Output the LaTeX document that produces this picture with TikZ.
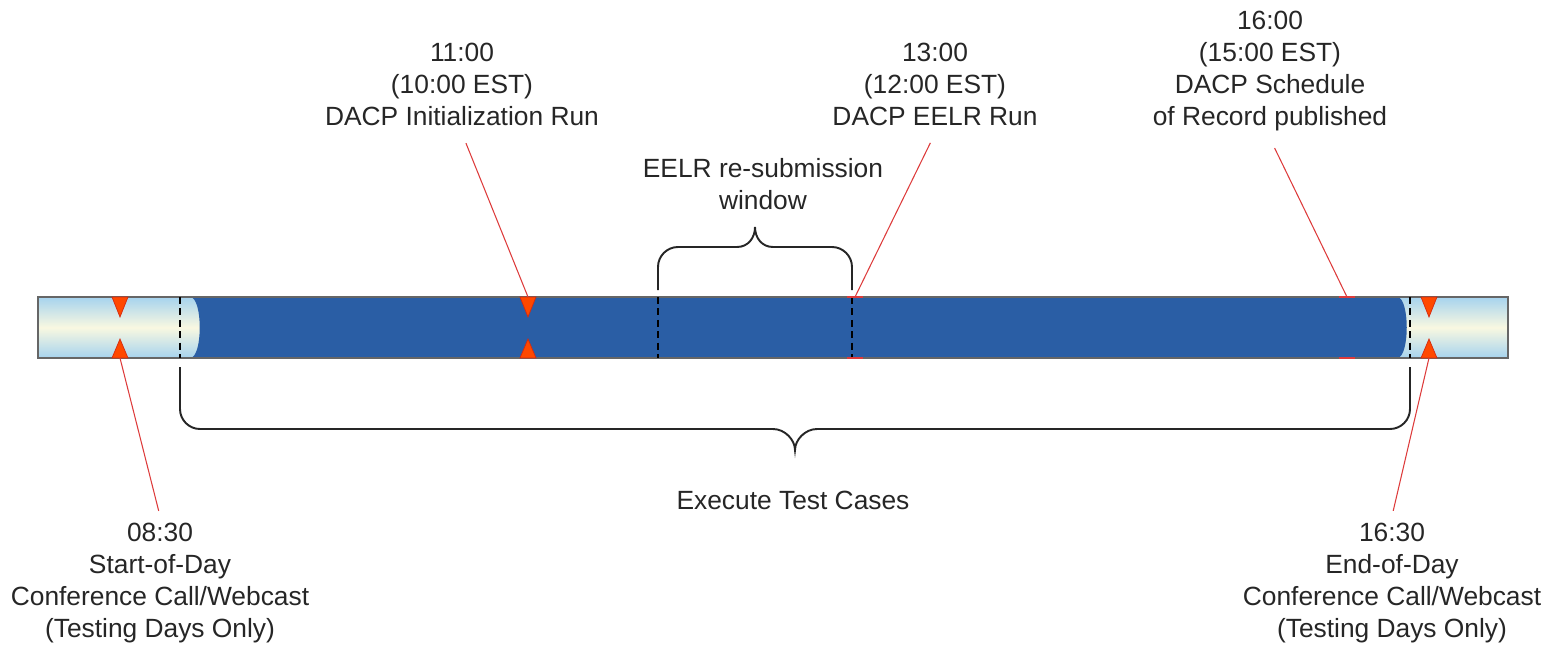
\documentclass[tikz,border=0pt]{standalone}
\usepackage{fontspec}
\setmainfont{Liberation Sans}
\usetikzlibrary{calc}
\definecolor{barblue}{HTML}{2A5EA5}
\definecolor{barsky}{HTML}{A6D3EE}
\definecolor{barcream}{HTML}{F9F8E1}
\definecolor{markred}{HTML}{FF4800}
\definecolor{markedge}{HTML}{D42A10}
\definecolor{callred}{HTML}{DD3B3B}
\definecolor{inkgray}{HTML}{262626}

\begin{document}
\begin{tikzpicture}[x=0.02cm, y=-0.02cm,
    lbl/.style={align=center, anchor=north, inner sep=4pt, text=inkgray, font=\fontsize{15}{18.2}\selectfont},
    callout/.style={draw=callred, line width=0.6pt},
    brace/.style={draw=inkgray, line width=1.1pt},
    tick/.style={draw=black, line width=0.8pt, dash pattern=on 4pt off 2.5pt},
    marker/.style={fill=markred, draw=markedge, line width=0.4pt}
]
\useasboundingbox (0,0) rectangle (1553,649);

% Time bar
\shade[top color=barsky, bottom color=barsky, middle color=barcream] (38,297) rectangle (1508,358);
\fill[barblue] (190,297) -- (1397,297) .. controls (1410,297) and (1410,358) .. (1397,358)
    -- (190,358) .. controls (203,358) and (203,297) .. (190,297) -- cycle;
\draw[draw=gray!80!black, line width=1pt] (38,297) rectangle (1508,358);

% Dashed separators
\foreach \x in {180,658,852,1410}
    \draw[tick] (\x,297) -- (\x,358);

% Markers
\foreach \x/\n in {120/sod, 528/init, 1429/eod} {
    \draw[marker] (\x-8,297) -- (\x+8,297) -- (\x,317) -- cycle;
    \draw[marker] (\x-8,358) -- (\x+8,358) -- (\x,339) -- cycle;
    \coordinate (\n-top) at (\x,297);
    \coordinate (\n-bot) at (\x,358);
}
\foreach \x/\n in {855/eelr, 1347/sor} {
    \draw[callout] (\x-8,297) -- (\x+8,297);
    \draw[callout] (\x-8,358) -- (\x+8,358);
    \coordinate (\n-top) at (\x,297);
}

% Braces
\draw[brace] (658,290) -- (658,267) .. controls (658,256) and (667,247) .. (678,247) -- (737,247)
    .. controls (748,247) and (755,238) .. (755,227) .. controls (755,238) and (762,247) .. (773,247)
    -- (832,247) .. controls (843,247) and (852,256) .. (852,267) -- (852,290);
\draw[brace] (180,367) -- (180,409) .. controls (180,420) and (189,429) .. (200,429) -- (773,429)
    .. controls (785,429) and (795,440) .. (795,450) .. controls (795,440) and (805,429) .. (817,429)
    -- (1390,429) .. controls (1401,429) and (1410,420) .. (1410,409) -- (1410,367);

% Labels
\node[lbl] (t1100) at (462,36) {11:00\\(10:00 EST)\\DACP Initialization Run};
\node[lbl] (t1300) at (935,36) {13:00\\(12:00 EST)\\DACP EELR Run};
\node[lbl] (t1600) at (1270,4) {16:00\\(15:00 EST)\\DACP Schedule\\of Record published};
\node[lbl] (window) at (763,151) {EELR re-submission\\window};
\node[lbl] (exec) at (793,484) {Execute Test Cases};
\node[lbl] (t0830) at (160,516) {08:30\\Start-of-Day\\Conference Call/Webcast\\(Testing Days Only)};
\node[lbl] (t1630) at (1392,516) {16:30\\End-of-Day\\Conference Call/Webcast\\(Testing Days Only)};

% Callouts
\draw[callout, shorten <=3pt] (t0830.north) -- (sod-bot);
\draw[callout, shorten <=6pt] (t1100.south) -- (init-top);
\draw[callout, shorten <=6pt] (t1300.south) -- (eelr-top);
\draw[callout, shorten <=6pt] (t1600.south) -- (sor-top);
\draw[callout, shorten <=3pt] (t1630.north) -- (eod-bot);
\end{tikzpicture}
\end{document}
